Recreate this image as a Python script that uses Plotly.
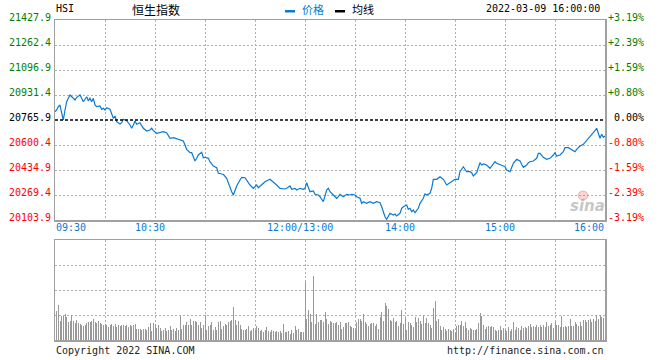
import plotly.graph_objects as go

W, H = 660, 360

# ---------------- data ----------------
title_code = "HSI"
title_name = "恒生指数"
legend_labels = ["价格", "均线"]
timestamp = "2022-03-09 16:00:00"
footer_left = "Copyright 2022 SINA.COM"
footer_right = "http://finance.sina.com.cn"

prev_close = 20765.9
price_ticks = [21427.9, 21262.4, 21096.9, 20931.4, 20765.9, 20600.4, 20434.9, 20269.4, 20103.9]
pct_ticks = ["+3.19%", "+2.39%", "+1.59%", "+0.80%", "\u00a00.00%", "-0.80%", "-1.59%", "-2.39%", "-3.19%"]
time_tick_minutes = [0, 60, 150, 210, 270, 330]
time_tick_labels = ["09:30", "10:30", "12:00/13:00", "14:00", "15:00", "16:00"]
grid_minutes = list(range(0, 331, 30))
volume_grid = [25, 50, 75]

# minutes since 09:30 (lunch break removed: 150 = 12:00/13:00)
price_minutes = [
    0, 1, 2, 3, 4, 5, 6, 7, 8, 9, 11, 12, 13, 15, 16, 17, 19, 20, 21, 22,
    23, 24, 25, 27, 28, 29, 30, 31, 33, 34, 35, 36, 37, 39, 40, 41, 42, 43, 45, 46,
    47, 48, 49, 51, 52, 53, 55, 57, 58, 59, 61, 62, 64, 65, 67, 68, 69, 71, 72, 74,
    75, 77, 78, 79, 81, 82, 83, 84, 85, 86, 88, 89, 90, 92, 93, 95, 97, 98, 100, 101,
    103, 104, 105, 106, 107, 108, 109, 111, 112, 114, 115, 117, 119, 121, 122, 124, 126, 129, 131, 133,
    135, 138, 139, 141, 142, 144, 145, 147, 149, 150, 151, 152, 153, 155, 156, 158, 159, 161, 162, 163,
    164, 165, 167, 169, 170, 171, 173, 175, 177, 178, 180, 181, 183, 184, 185, 187, 189, 191, 193, 195,
    196, 197, 198, 199, 200, 201, 203, 204, 205, 207, 208, 209, 211, 212, 213, 214, 215, 216, 218, 219,
    221, 222, 223, 225, 226, 227, 229, 230, 231, 233, 234, 235, 237, 239, 240, 242, 243, 245, 247, 249,
    250, 251, 253, 255, 256, 257, 259, 261, 262, 264, 265, 267, 269, 270, 271, 273, 274, 275, 277, 279,
    280, 281, 283, 284, 285, 287, 289, 290, 291, 293, 295, 297, 299, 300, 301, 303, 305, 306, 308, 310,
    312, 313, 315, 317, 319, 321, 323, 324, 325, 326, 327, 328, 329, 330,
]
price_values = [
    20820.8, 20832.1, 20853.9, 20865.2, 20812.2, 20765.9, 20832.1, 20887.0, 20909.6, 20931.4,
    20909.6, 20898.3, 20916.2, 20931.4, 20909.6, 20887.0, 20920.1, 20893.7, 20909.6, 20887.0,
    20909.6, 20865.2, 20853.9, 20858.6, 20836.7, 20843.4, 20832.1, 20847.3, 20836.7, 20799.0,
    20777.2, 20792.4, 20754.6, 20739.4, 20748.0, 20770.5, 20765.9, 20761.3, 20732.8, 20711.0,
    20732.8, 20759.3, 20737.4, 20748.0, 20728.2, 20711.0, 20693.1, 20699.7, 20711.0, 20695.1,
    20677.9, 20681.8, 20688.4, 20688.4, 20681.8, 20666.6, 20644.8, 20648.7, 20644.8, 20640.1,
    20633.5, 20626.9, 20600.4, 20571.9, 20549.4, 20549.4, 20522.9, 20494.5, 20512.3, 20534.2,
    20552.1, 20516.3, 20519.0, 20512.3, 20489.8, 20461.4, 20450.1, 20413.1, 20408.4, 20406.4,
    20380.0, 20346.9, 20317.7, 20291.3, 20269.4, 20297.9, 20329.0, 20368.7, 20386.6, 20384.0,
    20368.7, 20335.6, 20313.7, 20335.6, 20317.7, 20335.6, 20357.4, 20373.3, 20357.4, 20335.6,
    20313.7, 20309.1, 20313.7, 20329.0, 20307.1, 20313.7, 20302.5, 20313.7, 20307.1, 20313.7,
    20350.8, 20320.4, 20291.3, 20295.9, 20274.0, 20269.4, 20258.1, 20225.0, 20269.4, 20302.5,
    20313.7, 20291.3, 20269.4, 20247.6, 20258.1, 20274.0, 20258.1, 20274.0, 20269.4, 20274.0,
    20269.4, 20258.1, 20247.6, 20214.4, 20225.0, 20214.4, 20225.0, 20214.4, 20225.0, 20218.4,
    20192.0, 20158.8, 20125.7, 20108.5, 20130.4, 20148.2, 20137.0, 20143.6, 20130.4, 20148.2,
    20181.3, 20191.9, 20203.2, 20174.7, 20181.3, 20158.8, 20170.1, 20152.2, 20181.3, 20214.4,
    20247.6, 20276.0, 20269.4, 20280.7, 20313.7, 20373.3, 20373.3, 20380.0, 20390.6, 20373.3,
    20352.0, 20335.6, 20350.8, 20364.1, 20373.3, 20373.3, 20423.6, 20456.7, 20423.6, 20423.6,
    20417.0, 20395.2, 20417.0, 20483.2, 20468.0, 20474.6, 20468.0, 20446.2, 20461.4, 20489.8,
    20479.3, 20472.6, 20461.4, 20456.7, 20434.9, 20423.6, 20446.2, 20479.3, 20505.7, 20494.5,
    20472.6, 20452.8, 20468.0, 20483.2, 20489.8, 20494.5, 20512.3, 20545.5, 20545.5, 20519.0,
    20505.7, 20512.3, 20534.2, 20549.4, 20527.6, 20534.2, 20556.0, 20582.5, 20582.5, 20571.9,
    20556.0, 20571.9, 20593.8, 20605.0, 20628.9, 20655.3, 20677.9, 20695.1, 20711.0, 20677.9,
    20644.8, 20671.2, 20651.4, 20660.0,
]

# per-minute volume (relative units, panel full scale = 100)
volume = [
    29, 35, 19, 24, 24, 26, 23, 18, 19, 25,
    19, 17, 20, 17, 16, 15, 14, 15, 17, 18,
    18, 19, 21, 18, 17, 19, 17, 16, 15, 16,
    15, 13, 15, 16, 14, 16, 13, 15, 14, 15,
    15, 14, 15, 13, 15, 14, 15, 16, 11, 11,
    11, 10, 11, 11, 10, 13, 17, 9, 17, 16,
    12, 15, 12, 9, 10, 12, 9, 10, 14, 10,
    11, 9, 12, 10, 24, 11, 15, 15, 18, 15,
    21, 15, 19, 19, 18, 15, 18, 12, 15, 25,
    10, 14, 15, 18, 10, 13, 10, 18, 19, 11,
    14, 16, 15, 18, 19, 20, 33, 20, 15, 19,
    15, 11, 10, 10, 11, 14, 9, 10, 12, 10,
    14, 12, 9, 10, 8, 10, 13, 9, 8, 10,
    9, 8, 9, 8, 9, 7, 16, 8, 8, 9,
    6, 10, 7, 14, 10, 11, 8, 8, 8, 58,
    21, 30, 26, 18, 64, 16, 26, 18, 20, 20,
    18, 28, 21, 16, 19, 18, 17, 17, 18, 15,
    18, 11, 13, 17, 17, 18,
    14, 13, 12, 10, 18, 21, 21, 19, 26, 18,
    16, 14, 16, 17, 17, 14, 16, 11, 23, 28,
    19, 37, 34, 31, 20, 19, 22, 18, 19, 14,
    17, 30, 16, 22, 10, 18, 17, 15, 13, 23,
    18, 22, 19, 16, 25, 17, 22, 17, 15, 12,
    32, 39, 19, 21, 14, 10, 13, 11, 9, 11,
    10, 9, 11, 8, 14, 15, 15, 19, 14, 18,
    12, 10, 12, 11, 10, 10, 11, 17, 27, 24,
    15, 11, 13, 14, 13, 14, 13, 10, 9, 10,
    14, 10, 12, 10, 9, 13, 9, 11, 18, 10,
    13, 12, 10, 14, 12, 13, 12, 14, 16, 13,
    14, 13, 15, 13, 15, 13, 15, 13, 18, 14,
    15, 17, 12, 18, 15, 15, 13, 24, 13, 14,
    13, 14, 21, 14, 14, 18, 16, 14, 18, 14,
    20, 20, 18, 20, 21, 18, 21, 19, 25, 21,
    25, 23, 22, 30,
]
volume_minutes = list(range(1, len(volume) + 1))

# ---------------- styling ----------------
MONO = "DejaVu Sans Mono"
CJK = "Noto Sans CJK SC"
BLUE = "#0b7ad0"
GREEN = "#008000"
RED = "#ff0000"
GRID = "#b0b0b0"
FRAME = "#a0a0a0"

PX_L, PX_R, PX_T, PX_B = 55, 605, 20, 220
VOL_T, VOL_B = 240, 340


def px(xp):
    return xp / W


def py(yp):
    return (H - yp) / H


fig = go.Figure()

fig.add_trace(go.Bar(
    x=volume_minutes, y=volume, width=0.6,
    marker=dict(color="#999999", line=dict(width=0)),
    xaxis="x2", yaxis="y2", hoverinfo="skip",
))

fig.add_trace(go.Scatter(
    x=price_minutes, y=price_values, mode="lines",
    line=dict(color=BLUE, width=1.2),
    xaxis="x", yaxis="y", hoverinfo="skip",
))

axis_common = dict(
    showgrid=True, gridcolor=GRID, gridwidth=1, griddash="2px,2px",
    showline=True, linecolor=FRAME, linewidth=1.5, mirror=True,
    zeroline=False, showticklabels=False, ticks="", fixedrange=True,
)

fig.update_layout(
    width=W, height=H,
    margin=dict(l=0, r=0, t=0, b=0),
    paper_bgcolor="white", plot_bgcolor="white",
    showlegend=False, bargap=0,
    xaxis=dict(domain=[px(PX_L), px(PX_R)], range=[0, 330], tickvals=grid_minutes,
               anchor="y", **axis_common),
    yaxis=dict(domain=[py(PX_B), py(PX_T)], range=[price_ticks[-1], price_ticks[0]],
               tickvals=[v for v in price_ticks if v != prev_close], anchor="x", **axis_common),
    xaxis2=dict(domain=[px(PX_L), px(PX_R)], range=[0, 330], tickvals=grid_minutes,
                anchor="y2", **axis_common),
    yaxis2=dict(domain=[py(VOL_B), py(VOL_T)], range=[0, 100], tickvals=volume_grid,
                anchor="x2", **axis_common),
)

shapes = []
# previous close reference line
shapes.append(dict(type="line", xref="x", yref="y", x0=0, x1=330, y0=prev_close, y1=prev_close,
                   line=dict(color="black", width=1.5, dash="3px,2px"), layer="above"))
# legend swatches
shapes.append(dict(type="rect", xref="paper", yref="paper", x0=px(285), x1=px(295), y0=py(12.5), y1=py(10),
                   fillcolor=BLUE, line=dict(width=0)))
shapes.append(dict(type="rect", xref="paper", yref="paper", x0=px(335), x1=px(345), y0=py(12.5), y1=py(10),
                   fillcolor="black", line=dict(width=0)))
# watermark eye
shapes.append(dict(type="circle", xref="paper", yref="paper", x0=px(578), x1=px(588), y0=py(200), y1=py(191),
                   fillcolor="rgba(230,120,120,0.3)", line=dict(color="rgba(220,90,90,0.35)", width=1)))
fig.update_layout(shapes=shapes)

ann = []


def add_text(text, x, y, xanchor="left", yanchor="middle", color="black", family=MONO, size=10,
             xref="paper", yref="paper", xshift=0, yshift=0, **kw):
    ann.append(dict(text=text, x=x, y=y, xref=xref, yref=yref, xanchor=xanchor, yanchor=yanchor,
                    showarrow=False, font=dict(family=family, size=size, color=color),
                    xshift=xshift, yshift=yshift, borderpad=0, **kw))


# left price labels and right percentage labels
for v, p in zip(price_ticks, pct_ticks):
    if v > prev_close:
        c = GREEN
    elif v < prev_close:
        c = RED
    else:
        c = "black"
    add_text(f"{v:.1f}", px(PX_L), v, xanchor="right", yref="y", color=c, xshift=-3, yshift=2.5)
    add_text(p, px(PX_R), v, xanchor="left", yref="y", color=c, xshift=2, yshift=2.5)

# time labels
for i, (m, lab) in enumerate(zip(time_tick_minutes, time_tick_labels)):
    if i == 0:
        xa, sh = "left", 0
    elif i == len(time_tick_minutes) - 1:
        xa, sh = "right", 0
    else:
        xa, sh = "center", -5
    add_text(lab, m, price_ticks[-1], xanchor=xa, yanchor="top", xref="x", yref="y",
             color=BLUE, xshift=sh, yshift=-1)

# header
add_text(title_code, px(55), py(8.5), color="black")
add_text(title_name, px(131), py(9.5), color="black", family=CJK, size=12)
add_text(legend_labels[0], px(301), py(8.5), color=BLUE, family=CJK, size=11)
add_text(legend_labels[1], px(351), py(8.5), color="black", family=CJK, size=11)
add_text(timestamp, px(601), py(8.5), xanchor="right", color="black")

# footer
add_text(footer_left, px(55), py(350), color="#222222")
add_text(footer_right, px(605), py(350), xanchor="right", color="#222222")

# watermark text
add_text("<b><i>sina</i></b>", px(587), py(206), xanchor="center", color="rgba(150,150,150,0.55)",
         family="DejaVu Sans", size=15)

fig.update_layout(annotations=ann)

fig.write_html(
    "out.html",
    config={"displayModeBar": False, "staticPlot": True},
    post_script="document.body.style.margin='0px';document.body.style.overflow='hidden';",
)
